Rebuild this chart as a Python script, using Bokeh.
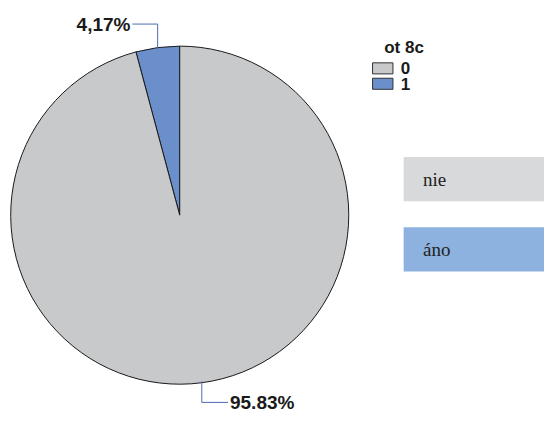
import math
from bokeh.plotting import figure
from bokeh.models import Range1d
from bokeh.core.properties import value
from bokeh.embed import file_html
from bokeh.resources import INLINE

# ---- data ----
categories = ["0", "1"]
shares = [95.83, 4.17]
labels = ["95.83%", "4,17%"]
pie_colors = ["#C8C9CB", "#6A8FCB"]
legend_title = "ot 8c"
box_labels = ["nie", "áno"]
box_colors = ["#D8D9DB", "#8DB2DF"]

# figure in pixels; data units follow a 560x428 layout grid
W, H = 544, 412
GW, GH = 560, 428
p = figure(width=W, height=H, output_backend="svg", toolbar_location=None,
           x_range=Range1d(0, GW), y_range=Range1d(0, GH), min_border=0)
p.axis.visible = False
p.grid.visible = False
p.outline_line_color = None
p.background_fill_color = "white"

cx, cy, r = 184.5, 205, 174
total = sum(shares)
# slice "1" starts at 12 o'clock and goes counter-clockwise, then "0"
order = [1, 0]
start = math.pi / 2
angles = {}
for i in order:
    span = 2 * math.pi * shares[i] / total
    angles[i] = (start, start + span)
    start += span

for i in order:
    a0, a1 = angles[i]
    p.wedge(x=cx, y=cy, radius=r, start_angle=a0, end_angle=a1,
            fill_color=pie_colors[i], line_color="#1a1a1a", line_width=1)

# leader lines and labels
lead_col = "#4A6CB3"
lab_font = dict(text_font=value("Liberation Sans"), text_font_style="bold",
                text_font_size="19px", text_color="#1a1a1a", text_baseline="middle")
for i in order:
    a0, a1 = angles[i]
    mid = (a0 + a1) / 2
    ex = cx + r * math.cos(mid)
    ey = cy + r * math.sin(mid)
    if math.sin(mid) > 0:
        ly = ey + 26
        lx = ex - 26
        p.line([ex, ex, lx], [ey, ly, ly], line_color=lead_col, line_width=1)
        p.text(x=[lx - 2], y=[ly], text=[labels[i]], text_align="right", **lab_font)
    else:
        ly = ey - 22
        lx = ex + 27
        p.line([ex, ex, lx], [ey, ly, ly], line_color=lead_col, line_width=1)
        p.text(x=[lx + 2], y=[ly], text=[labels[i]], text_align="left", **lab_font)

# legend
p.text(x=[395], y=[379], text=[legend_title], text_align="left", text_baseline="middle",
       text_font=value("Liberation Sans"), text_font_style="bold",
       text_font_size="17px", text_color="#1a1a1a")
for k, cat in enumerate(categories):
    yy = 357.5 - 16 * k
    p.rect(x=[393.5], y=[yy], width=21, height=11.5, fill_color=pie_colors[k],
           line_color="#333333", line_width=1)
    p.text(x=[412], y=[yy], text=[cat], text_align="left", text_baseline="middle",
           text_font=value("Liberation Sans"), text_font_style="bold",
           text_font_size="17px", text_color="#1a1a1a")

# side boxes
for k, lab in enumerate(box_labels):
    yc = 242.5 - 73 * k
    p.rect(x=[(415 + GW) / 2], y=[yc], width=GW - 415, height=46,
           fill_color=box_colors[k], line_color=None)
    p.text(x=[435], y=[yc], text=[lab], text_align="left", text_baseline="middle",
           text_font=value("Liberation Serif"), text_font_size="19px",
           text_color="#222222")

open("out.html", "w").write(file_html(p, INLINE))
